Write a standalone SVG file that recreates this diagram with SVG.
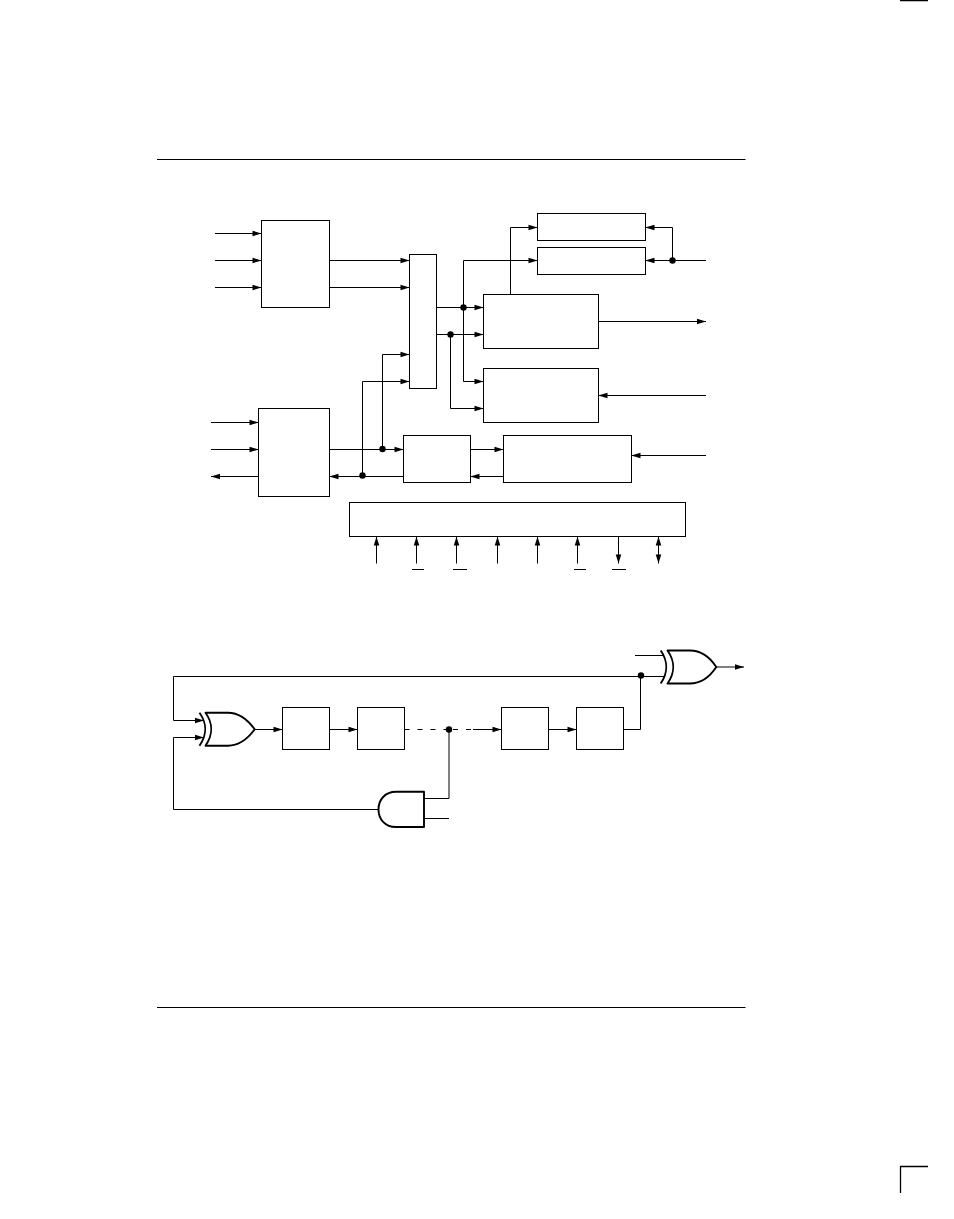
<svg xmlns="http://www.w3.org/2000/svg" width="954" height="1219" viewBox="0 0 954 1219">
<defs>
<marker id="a" markerUnits="userSpaceOnUse" markerWidth="10" markerHeight="8" viewBox="0 0 10 8" refX="10" refY="4" orient="auto-start-reverse"><path d="M1 1.2L10 4L1 6.8Z" fill="#000"/></marker>
</defs>
<style>
.b{fill:#fff;stroke:#000;stroke-width:1}
.c path{fill:none;stroke:#000;stroke-width:1}
.c .ar{marker-end:url(#a)}
.c .br{marker-start:url(#a);marker-end:url(#a)}
.c .d{stroke-dasharray:5 8}
.c circle{fill:#000}
.g{fill:#fff;stroke:#000;stroke-width:1.9;stroke-linejoin:round}
.h{fill:none;stroke:#000;stroke-width:1.9}
.r{fill:none;stroke:#000;stroke-width:1}
.m{fill:none;stroke:#000;stroke-width:1.3}
</style>
<rect width="954" height="1219" fill="#fff"/>
<g id="page-marks">
<path class="r" d="M157 159.5H745.5M157 1007.5H745.5"/>
<path class="m" d="M900 0.5H928M900.5 1193V1166.5H928"/>
</g>
<g id="connectors" class="c">
<path class="ar" d="M215 233.5H261.5"/>
<path class="ar" d="M215 260.5H261.5"/>
<path class="ar" d="M215 287.5H261.5"/>
<path class="ar" d="M329.5 260.5H409.5"/>
<path class="ar" d="M329.5 287.5H409.5"/>
<path class="ar" d="M211 422.5H258.5"/>
<path class="ar" d="M211 449.5H258.5"/>
<path class="ar" d="M258.5 476.5H211"/>
<path class="ar" d="M329.5 449.5H403.5"/>
<path class="ar" d="M403.5 476.5H329.5"/>
<path class="ar" d="M382.5 449.5V354.5H409.5"/>
<path class="ar" d="M362.5 476.5V381.5H409.5"/>
<path class="ar" d="M436.5 307.5H483.5"/>
<path class="ar" d="M436.5 334.5H483.5"/>
<path class="ar" d="M463.5 307.5V260.5H537.5"/>
<path class="ar" d="M463.5 307.5V381.5H483.5"/>
<path class="ar" d="M450.5 334.5V408.5H483.5"/>
<path class="ar" d="M510.5 294.5V227.5H537.5"/>
<path class="ar" d="M706 260.5H645.5"/>
<path class="ar" d="M672.5 260.5V227.5H645.5"/>
<path class="ar" d="M598.5 321.5H706"/>
<path class="ar" d="M706 395.5H598.5"/>
<path class="ar" d="M706 455.5H631.5"/>
<path class="ar" d="M470.5 449.5H503.5"/>
<path class="ar" d="M503.5 476.5H470.5"/>
<path class="ar" d="M376.5 563.5V536.5"/>
<path class="ar" d="M416.5 563.5V536.5"/>
<path class="ar" d="M456.5 563.5V536.5"/>
<path class="ar" d="M497.5 563.5V536.5"/>
<path class="ar" d="M537.5 563.5V536.5"/>
<path class="ar" d="M577.5 563.5V536.5"/>
<path class="ar" d="M618.5 536.5V563.5"/>
<path class="br" d="M658.5 536.5V563.5"/>
<path d="M412 569.5H424M453 569.5H467M574 569.5H586M612 569.5H626"/>
<path class="ar" d="M640.5 676.5H173.5V720.5H204"/>
<path class="ar" d="M378.5 809.5H173.5V737.5H204"/>
<path class="ar" d="M254.5 729.5H282.5"/>
<path class="ar" d="M329.5 729.5H357.5"/>
<path class="d" d="M404.5 729.5H449"/>
<path class="d" d="M453 729.5H473"/>
<path class="ar" d="M473 729.5H501.5"/>
<path class="ar" d="M548.5 729.5H576.5"/>
<path d="M623.5 729.5H640.5V676.5H664"/>
<path d="M635 655.5H663"/>
<path class="ar" d="M716 667H744"/>
<path d="M449 729.5V798.5H424M424 818.5H449"/>
<circle cx="463.5" cy="307.5" r="3.2"/>
<circle cx="450.5" cy="334.5" r="3.2"/>
<circle cx="672.5" cy="260.5" r="3.2"/>
<circle cx="382.5" cy="449" r="3.2"/>
<circle cx="362.5" cy="475.5" r="3.2"/>
<circle cx="641" cy="675.5" r="3.2"/>
<circle cx="449" cy="729.5" r="3.2"/>
</g>
<g id="block-a"><rect class="b" x="261.5" y="220.5" width="68" height="87"/></g>
<g id="mux"><rect class="b" x="409.5" y="254.5" width="27" height="134"/></g>
<g id="block-b"><rect class="b" x="258.5" y="408.5" width="71" height="88"/></g>
<g id="block-c"><rect class="b" x="403.5" y="435.5" width="67" height="47"/></g>
<g id="block-d"><rect class="b" x="537.5" y="213.5" width="108" height="27"/></g>
<g id="block-e"><rect class="b" x="537.5" y="247.5" width="108" height="27"/></g>
<g id="block-f"><rect class="b" x="483.5" y="294.5" width="115" height="54"/></g>
<g id="block-g"><rect class="b" x="483.5" y="368.5" width="115" height="54"/></g>
<g id="block-h"><rect class="b" x="503.5" y="435.5" width="128" height="47"/></g>
<g id="control"><rect class="b" x="349.5" y="502.5" width="336" height="34"/></g>
<g id="reg-1"><rect class="b" x="282.5" y="707.5" width="47" height="42"/></g>
<g id="reg-2"><rect class="b" x="357.5" y="707.5" width="47" height="42"/></g>
<g id="reg-3"><rect class="b" x="501.5" y="707.5" width="47" height="42"/></g>
<g id="reg-4"><rect class="b" x="576.5" y="707.5" width="47" height="42"/></g>
<g id="xor-1">
<path class="g" d="M205.5 712.7H228C239 712.7 248 720 254.7 729.3C248 738.5 239 745.7 228 745.7H205.5C213 735 213 723 205.5 712.7Z"/>
<path class="h" d="M199.5 712.7C207 723 207 735 199.5 745.7"/>
</g>
<g id="xor-2">
<path class="g" d="M667.5 650.5H690C701 650.5 710 657.5 716.3 667C710 676.5 701 683.5 690 683.5H667.5C675 673 675 661 667.5 650.5Z"/>
<path class="h" d="M660.7 650.5C668 661 668 673 660.7 683.5"/>
</g>
<g id="and-gate">
<path class="g" d="M424 791.8V827H396C385 827 378.5 819 378.5 809.4S385 791.8 396 791.8Z"/>
</g>
</svg>
